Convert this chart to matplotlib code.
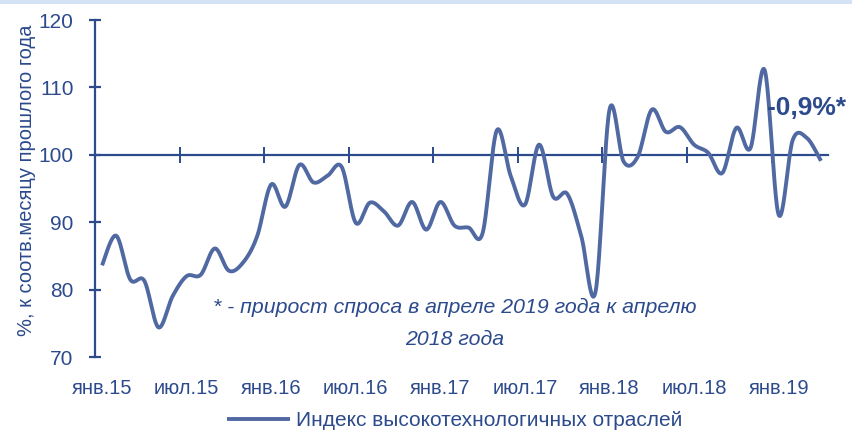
import numpy as np
import matplotlib
matplotlib.use("Agg")
import matplotlib.pyplot as plt
from matplotlib.patches import Rectangle

# ---- data ----
months_ru = ["янв", "фев", "мар", "апр", "май", "июн", "июл", "авг", "сен", "окт", "ноя", "дек"]
categories = [f"{months_ru[m]}.{y % 100}" for y in range(2015, 2020) for m in range(12)][:52]
values = [83.6, 88.0, 81.5, 81.3, 74.4, 79.0, 82.0, 82.2, 86.1, 82.8, 84.0, 87.9,
          95.6, 92.3, 98.5, 95.9, 96.9, 98.2, 89.9, 92.9, 91.6, 89.5, 93.0, 88.9,
          93.0, 89.5, 89.2, 88.4, 103.6, 96.8, 92.6, 101.5, 93.8, 94.2, 87.9, 79.6,
          106.7, 99.0, 99.7, 106.7, 103.4, 104.1, 101.5, 100.3, 97.3, 104.0, 101.0, 112.6,
          91.1, 102.2, 102.5, 99.1]
series_name = "Индекс высокотехнологичных отраслей"
y_label = "%, к соотв.месяцу прошлого года"
note = "* - прирост спроса в апреле 2019 года к апрелю\n2018 года"
callout = "-0,9%*"
yticks = [70, 80, 90, 100, 110, 120]

NAVY = "#2C4A8C"
LINE = "#5169A3"
plt.rcParams['font.family'] = ['Liberation Sans', 'DejaVu Sans']

# smooth curve (Catmull-Rom style cubic Bezier, like Excel's smoothed line)
def smooth(y, n=24):
    y = np.asarray(y, float)
    x = np.arange(len(y), dtype=float)
    P = np.column_stack([x, y])
    out = []
    for i in range(len(P) - 1):
        p0 = P[i - 1] if i > 0 else P[i]
        p1, p2 = P[i], P[i + 1]
        p3 = P[i + 2] if i + 2 < len(P) else P[i + 1]
        c1 = p1 + (p2 - p0) / 6.0
        c2 = p2 - (p3 - p1) / 6.0
        t = np.linspace(0, 1, n, endpoint=(i == len(P) - 2))[:, None]
        seg = (1 - t) ** 3 * p1 + 3 * (1 - t) ** 2 * t * c1 + 3 * (1 - t) * t ** 2 * c2 + t ** 3 * p2
        out.append(seg)
    out = np.vstack(out)
    return out[:, 0], out[:, 1]

fig = plt.figure(figsize=(8.52, 4.30), dpi=100)
fig.patches.append(Rectangle((0, 1 - 4 / 430), 1, 4 / 430, transform=fig.transFigure,
                             facecolor="#D3E2F4", edgecolor="none", zorder=0))
ax = fig.add_axes([95 / 852, 1 - 357 / 430, 733 / 852, 337 / 430])

sx, sy = smooth(values)
ax.plot(sx, sy, color=LINE, lw=2.8, solid_capstyle="butt", label=series_name, zorder=3)

n = len(values)
ax.set_xlim(-0.5, n - 0.5)
ax.set_ylim(70, 120)

for s in ["top", "right", "bottom"]:
    ax.spines[s].set_visible(False)
ax.spines["left"].set_color(NAVY)
ax.spines["left"].set_linewidth(1.6)

ax.set_yticks(yticks)
ax.tick_params(axis="y", direction="inout", length=9, width=1.6, color=NAVY,
               labelcolor=NAVY, labelsize=15, pad=11)

# bottom labels (no tick marks)
lab_pos = list(range(0, n, 6))
ax.set_xticks(lab_pos)
ax.set_xticklabels([categories[i] for i in lab_pos])
ax.tick_params(axis="x", length=0, labelcolor=NAVY, labelsize=14.5, pad=16)

# crossing axis at y = 100 with tick marks at category boundaries
sec = ax.secondary_xaxis((100 - 70) / 50)
for s in ["top", "bottom"]:
    sec.spines[s].set_color(NAVY)
    sec.spines[s].set_linewidth(1.6)
sec.set_xticks([i - 0.5 for i in range(6, n, 6)])
sec.set_xticklabels([])
sec.tick_params(axis="x", direction="inout", length=11, width=1.4, color=NAVY)

ax.set_ylabel(y_label, color=NAVY, fontsize=14.5)
ax.yaxis.set_label_coords(-0.08, 0.525)

ax.text(0.491, 0.099, note, transform=ax.transAxes, ha="center", va="center",
        fontsize=15.3, style="italic", color=NAVY, linespacing=1.85)
ax.text(n - 1 - 3.8, 107.0, callout, ha="left", va="center", fontsize=19,
        fontweight="bold", color=NAVY, zorder=4)

leg = fig.legend(handles=ax.get_lines(), loc="center", bbox_to_anchor=(455 / 852, 1 - 421 / 430),
                 frameon=False, fontsize=15, handlelength=3.0, handletextpad=0.3)
for t in leg.get_texts():
    t.set_color(NAVY)

fig.savefig("out.png", dpi=100)
